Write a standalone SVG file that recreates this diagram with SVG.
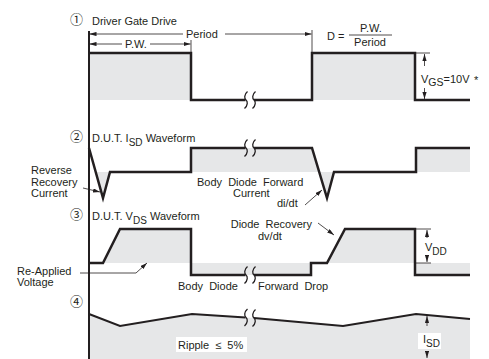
<svg xmlns="http://www.w3.org/2000/svg" width="489" height="359" viewBox="0 0 489 359">
<style>
text{font-family:"Liberation Sans","Noto Sans CJK JP",sans-serif;font-size:11px;fill:#231f20}
.num{font-size:13px}
.fill{fill:#e6e7e8;stroke:none}
.wave{fill:none;stroke:#231f20;stroke-width:2.5;stroke-linejoin:miter}
.wave4{fill:none;stroke:#231f20;stroke-width:2}
.thin{fill:none;stroke:#231f20;stroke-width:0.8}
.brk{fill:none;stroke:#231f20;stroke-width:1.3}
.wb{fill:#fff;stroke:none}
</style>
<defs>
<marker id="ah" viewBox="0 0 10 6" refX="10" refY="3" markerWidth="7" markerHeight="4.2" markerUnits="userSpaceOnUse" orient="auto-start-reverse">
<path d="M0,0 L10,3 L0,6 Z" fill="#231f20"/>
</marker>
<g id="brk">
<path class="brk" d="M1.5,-8.5 C-2,-5.5 -1.8,-1.5 0,0 C1.8,1.5 2,5.5 -1.5,8.5"/>
</g>
</defs>

<g id="fills">
<rect class="fill" x="89" y="53" width="102" height="47"/>
<rect class="fill" x="312" y="53" width="103" height="47"/>
<polygon class="fill" points="95.7,172 103,198 110,172"/>
<polygon class="fill" points="191,148 312,148 319.2,172 191,172"/>
<polygon class="fill" points="319.2,172 327,198 334,172"/>
<rect class="fill" x="416" y="148" width="54" height="24"/>
<polygon class="fill" points="103,263 120,229 191,229 191,263"/>
<rect class="fill" x="191" y="263" width="120" height="12"/>
<polygon class="fill" points="327,263 345,229 415,229 415,263"/>
<rect class="fill" x="415" y="263" width="55" height="12"/>
<polygon class="fill" points="89,314 120,326 192,314 246,317.5 254,318 343,326 416,314 470,319 470,359 89,359"/>
</g>

<g id="axis">
<line x1="89" y1="31" x2="89" y2="359" stroke="#231f20" stroke-width="2"/>
</g>

<g id="panel1">
<text class="num" x="70" y="24">①</text>
<text x="92" y="25">Driver Gate Drive</text>
<path class="wave" d="M89,53 H191 V100 H245.5"/>
<path class="wave" d="M254,100 H312 V53 H415 V100 H470"/>
<use href="#brk" x="246" y="100"/>
<use href="#brk" x="254" y="100"/>
</g>

<g id="dims">
<line class="thin" x1="191" y1="40" x2="191" y2="53"/>
<line class="thin" x1="312" y1="30" x2="312" y2="53"/>
<line class="thin" x1="89.5" y1="34" x2="183" y2="34" marker-start="url(#ah)"/>
<line class="thin" x1="225" y1="34" x2="311.5" y2="34" marker-end="url(#ah)"/>
<text x="186" y="38">Period</text>
<line class="thin" x1="89.5" y1="44" x2="122" y2="44" marker-start="url(#ah)"/>
<line class="thin" x1="150" y1="44" x2="190.5" y2="44" marker-end="url(#ah)"/>
<text x="125" y="48">P.W.</text>
<text x="327" y="40">D =</text>
<line class="thin" x1="349" y1="35" x2="392" y2="35"/>
<text x="371" y="32" text-anchor="middle">P.W.</text>
<text x="370" y="46" text-anchor="middle">Period</text>
<line class="thin" x1="415" y1="53" x2="430" y2="53"/>
<line class="thin" x1="424.5" y1="66" x2="424.5" y2="54" marker-end="url(#ah)"/>
<line class="thin" x1="424.5" y1="88" x2="424.5" y2="99" marker-end="url(#ah)"/>
<text x="421" y="83" font-size="12">V<tspan dy="3" font-size="10.5">GS</tspan><tspan dy="-3">=10V</tspan></text>
<text x="474" y="84" font-size="21">*</text>
</g>

<g id="panel2">
<text class="num" x="70" y="141">②</text>
<text x="92" y="142">D.U.T. I<tspan dy="4" font-size="10">SD</tspan><tspan dy="-4"> Waveform</tspan></text>
<path class="wave" d="M89,148 L103,198 L110,172 H191 V148 H245.5"/>
<path class="wave" d="M254,148 H312 L327,198 L334,172 H416 V148 H470"/>
<use href="#brk" x="246" y="148"/>
<use href="#brk" x="254" y="148"/>
<text x="31" y="174">Reverse</text>
<text x="31" y="185.5">Recovery</text>
<text x="31" y="197">Current</text>
<line class="thin" x1="83" y1="188" x2="100" y2="192" marker-end="url(#ah)"/>
<text x="197" y="186" word-spacing="3">Body Diode Forward</text>
<text x="233" y="197">Current</text>
<text x="277" y="207">di/dt</text>
<line class="thin" x1="305" y1="205" x2="322" y2="190" marker-end="url(#ah)"/>
</g>

<g id="panel3">
<text class="num" x="70" y="219">③</text>
<text x="92" y="220">D.U.T. V<tspan dy="4" font-size="10">DS</tspan><tspan dy="-4"> Waveform</tspan></text>
<path class="wave" d="M89,263 H103 L120,229 H191 V275 H245.5"/>
<path class="wave" d="M254,275 H311 V263 H327 L345,229 H415 V275 H470"/>
<use href="#brk" x="246" y="275"/>
<use href="#brk" x="254" y="275"/>
<text x="312" y="228" text-anchor="end" word-spacing="3">Diode Recovery</text>
<text x="258" y="240">dv/dt</text>
<line class="thin" x1="318" y1="223" x2="334" y2="235" marker-end="url(#ah)"/>
<line class="thin" x1="415" y1="229" x2="431" y2="229"/>
<line class="thin" x1="415" y1="263" x2="431" y2="263"/>
<line class="thin" x1="427" y1="238" x2="427" y2="230" marker-end="url(#ah)"/>
<line class="thin" x1="427" y1="256" x2="427" y2="262" marker-end="url(#ah)"/>
<text x="425" y="251">V<tspan dy="4" font-size="10">DD</tspan></text>
<text x="17" y="275">Re-Applied</text>
<text x="17" y="286">Voltage</text>
<polyline class="thin" points="80,273 136,273 147,263" marker-end="url(#ah)"/>
<text x="178" y="290" word-spacing="3">Body Diode</text>
<text x="258" y="290" word-spacing="3">Forward Drop</text>
</g>

<g id="panel4">
<text class="num" x="70" y="306">④</text>
<path class="wave4" d="M89,314 L120,326 L192,314 L245.5,317.5"/>
<path class="wave4" d="M254,318 L343,326 L416,314 L470,319"/>
<use href="#brk" x="246" y="317.5"/>
<use href="#brk" x="254" y="318"/>
<rect class="wb" x="176" y="337" width="71" height="15"/>
<text x="178" y="349" word-spacing="3">Ripple ≤ 5%</text>
<rect class="wb" x="418" y="333" width="23" height="16"/>
<text x="423" y="343">I<tspan dy="4" font-size="10">SD</tspan></text>
<line class="thin" x1="427" y1="326" x2="427" y2="316" marker-end="url(#ah)"/>
<line class="thin" x1="427" y1="352" x2="427" y2="358" marker-end="url(#ah)"/>
</g>
</svg>
